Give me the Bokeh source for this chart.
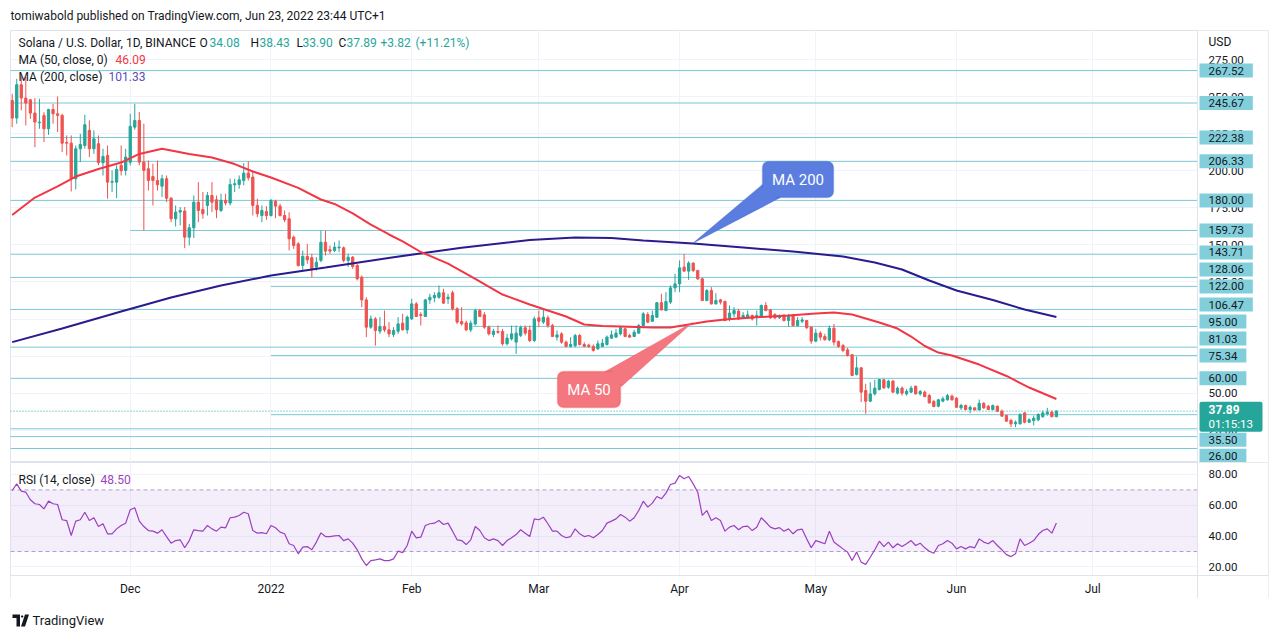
from bokeh.plotting import figure
from bokeh.models import (Range1d, LinearAxis, FixedTicker, NumeralTickFormatter, Label,
                          BoxAnnotation, PolyAnnotation, Span, ColumnDataSource, Grid)
from bokeh.layouts import column
from bokeh.embed import file_html
from bokeh.resources import INLINE

# ---------------- data (daily candles, 5 Nov 2021 -> 23 Jun 2022) ----------------
opens = [247.4, 235.5, 258.0, 249.0, 247.8, 238.9, 232.3, 237.3, 228.3, 241.3,
         238.4, 237.3, 219.1, 218.6, 194.6, 214.8, 217.0, 227.2, 214.8, 218.2,
         205.4, 210.3, 192.3, 192.3, 203.6, 200.2, 205.8, 229.4, 233.9, 205.8,
         201.3, 196.1, 193.4, 189.6, 194.6, 181.5, 167.6, 172.1, 172.8, 155.2,
         161.5, 178.8, 173.9, 176.6, 183.3, 180.4, 173.2, 180.0, 178.2, 190.5,
         190.7, 193.4, 198.4, 195.7, 176.6, 169.8, 172.5, 169.8, 179.5, 176.1,
         169.8, 167.6, 155.2, 150.7, 136.1, 142.2, 141.3, 135.0, 139.5, 151.8,
         146.7, 146.2, 148.0, 148.0, 139.5, 141.7, 136.1, 128.2, 112.9, 94.5,
         100.1, 91.8, 95.0, 92.7, 89.6, 91.8, 97.2, 92.7, 100.1, 110.2,
         103.0, 101.7, 112.9, 114.3, 114.7, 117.7, 113.6, 117.7, 106.9, 98.3,
         97.4, 92.7, 96.7, 105.7, 102.8, 94.5, 89.6, 91.6, 91.6, 83.3,
         86.6, 84.4, 89.0, 94.1, 92.5, 85.5, 100.8, 97.9, 100.8, 95.6,
         87.8, 90.0, 84.4, 81.5, 82.0, 88.9, 82.8, 82.4, 81.5, 79.9,
         81.5, 82.8, 87.1, 87.8, 90.0, 93.4, 88.9, 88.2, 90.5, 95.6,
         103.0, 98.5, 101.2, 111.0, 105.7, 111.4, 121.0, 123.7, 135.0, 132.3,
         137.7, 132.7, 127.1, 112.5, 119.2, 110.2, 112.9, 111.8, 100.1, 103.5,
         105.3, 100.8, 100.8, 102.4, 101.2, 101.2, 109.1, 106.2, 103.0, 100.8,
         101.7, 99.0, 102.4, 95.6, 98.5, 99.0, 94.5, 85.1, 90.5, 88.2,
         86.0, 93.8, 84.8, 82.1, 79.2, 75.9, 62.6, 67.1, 51.8, 44.6,
         49.5, 52.5, 59.0, 54.0, 58.1, 50.0, 53.4, 49.5, 50.7, 54.7,
         49.5, 50.7, 48.4, 44.4, 41.2, 44.6, 45.5, 48.0, 46.6, 40.1,
         41.7, 39.0, 40.1, 38.7, 43.2, 41.2, 39.0, 41.2, 37.8, 34.9,
         31.6, 29.3, 29.3, 36.7, 30.4, 31.6, 32.0, 34.2, 36.1, 37.2,
         34.08]
highs = [251.9, 262.0, 264.3, 263.1, 248.5, 249.0, 248.5, 239.5, 241.8, 245.1,
         250.1, 238.4, 223.8, 223.8, 217.0, 224.9, 237.7, 233.9, 227.2, 223.8,
         214.8, 217.0, 200.2, 203.6, 217.0, 214.8, 238.4, 245.1, 239.5, 231.7,
         206.9, 204.7, 206.9, 197.3, 196.8, 182.2, 176.6, 175.5, 175.5, 164.2,
         183.3, 192.3, 185.6, 185.6, 192.3, 183.3, 184.5, 184.5, 194.6, 194.6,
         196.8, 205.1, 206.5, 199.5, 181.1, 176.6, 176.1, 181.0, 180.4, 177.7,
         173.2, 172.0, 156.3, 151.8, 146.2, 150.7, 144.0, 141.7, 159.7, 159.7,
         149.6, 151.8, 153.0, 148.9, 144.0, 142.5, 137.2, 129.3, 114.7, 102.4,
         101.3, 101.3, 105.7, 97.9, 94.5, 101.3, 103.5, 102.4, 113.6, 111.4,
         104.6, 113.6, 117.0, 118.1, 122.6, 120.4, 117.0, 119.2, 108.0, 108.0,
         99.0, 99.0, 106.9, 106.9, 104.6, 95.6, 93.4, 95.6, 93.4, 90.0,
         95.6, 95.6, 95.6, 95.6, 95.6, 101.7, 105.7, 106.2, 102.4, 96.7,
         92.3, 91.1, 85.5, 87.8, 90.0, 90.0, 84.4, 83.3, 82.8, 85.5,
         86.6, 88.9, 92.3, 93.4, 94.9, 94.1, 90.0, 92.7, 96.7, 104.6,
         104.6, 105.7, 111.5, 117.0, 118.1, 122.6, 130.5, 139.5, 143.96, 139.0,
         138.3, 133.2, 127.8, 120.3, 121.5, 117.4, 113.6, 112.5, 109.1, 108.0,
         106.9, 104.6, 105.7, 103.0, 105.7, 109.8, 111.4, 106.9, 103.9, 103.0,
         103.5, 103.5, 103.5, 101.3, 101.3, 99.4, 95.0, 93.4, 91.8, 90.0,
         95.6, 96.7, 85.5, 83.3, 80.6, 76.5, 74.7, 67.6, 56.3, 57.4,
         59.0, 59.7, 59.7, 59.0, 59.0, 54.5, 54.5, 52.9, 55.0, 55.0,
         52.2, 51.8, 49.5, 45.5, 46.2, 47.7, 49.5, 49.1, 47.3, 42.8,
         42.3, 41.7, 40.5, 45.7, 43.9, 42.1, 42.3, 41.7, 39.0, 35.6,
         32.7, 31.6, 36.5, 37.2, 33.1, 34.9, 36.5, 38.3, 40.1, 38.3,
         38.43]
lows = [229.4, 231.7, 240.7, 230.5, 235.0, 215.9, 228.3, 219.3, 224.2, 231.7,
        226.0, 212.6, 210.3, 186.0, 187.4, 205.8, 214.8, 209.2, 211.4, 203.6,
        196.8, 181.1, 185.6, 181.5, 196.8, 196.8, 203.6, 227.6, 203.6, 159.7,
        186.7, 176.6, 186.7, 182.2, 178.8, 165.3, 162.4, 163.1, 147.8, 149.6,
        154.6, 165.3, 167.6, 169.8, 172.1, 168.0, 172.1, 176.6, 176.6, 185.6,
        187.8, 190.1, 193.4, 169.8, 168.7, 165.3, 166.9, 169.1, 168.0, 169.1,
        165.3, 146.2, 147.3, 135.4, 132.7, 137.2, 128.2, 132.7, 138.3, 142.8,
        144.0, 145.1, 145.1, 138.3, 135.0, 133.8, 126.0, 108.0, 87.8, 93.4,
        82.1, 90.0, 91.1, 87.8, 87.8, 90.0, 92.3, 90.0, 99.4, 101.3,
        95.6, 101.3, 110.2, 111.3, 113.6, 110.2, 110.2, 105.7, 96.7, 95.6,
        91.8, 91.1, 95.6, 101.3, 93.4, 88.9, 87.8, 90.0, 82.1, 82.1,
        85.5, 76.5, 87.8, 88.9, 84.4, 84.4, 94.5, 96.7, 94.1, 87.8,
        85.5, 83.3, 81.0, 81.0, 81.0, 82.1, 81.0, 80.6, 78.1, 79.2,
        81.0, 82.1, 86.6, 87.3, 88.9, 87.8, 87.3, 87.8, 90.0, 94.9,
        97.2, 97.9, 100.8, 105.7, 105.3, 110.2, 118.1, 118.1, 132.0, 126.4,
        131.6, 126.4, 112.0, 112.0, 109.8, 109.8, 109.8, 98.5, 98.5, 101.2,
        99.4, 100.1, 100.1, 99.0, 95.6, 100.8, 105.3, 100.1, 99.9, 100.1,
        98.3, 94.9, 94.9, 94.9, 97.2, 93.4, 83.3, 84.4, 85.5, 85.5,
        85.1, 82.1, 80.6, 77.6, 74.7, 61.5, 61.9, 43.9, 36.1, 43.9,
        48.4, 51.8, 52.9, 52.9, 50.0, 49.1, 48.4, 48.4, 50.0, 49.1,
        48.4, 47.3, 42.8, 40.5, 40.5, 43.9, 45.0, 45.0, 40.1, 38.7,
        38.3, 36.5, 38.3, 38.3, 39.4, 38.7, 38.3, 37.2, 34.2, 30.9,
        27.1, 27.1, 28.9, 29.7, 29.9, 28.2, 31.1, 33.3, 34.9, 33.95,
        33.90]
closes = [235.5, 258.0, 249.0, 245.6, 238.9, 232.8, 232.8, 228.3, 241.3, 238.4,
          237.3, 218.6, 218.6, 194.6, 214.8, 217.7, 231.0, 214.8, 221.5, 205.4,
          209.6, 192.3, 192.8, 200.9, 200.0, 209.2, 229.9, 233.9, 205.8, 200.2,
          193.4, 193.4, 190.5, 194.6, 181.5, 167.6, 172.1, 173.2, 155.2, 161.5,
          178.8, 173.2, 171.0, 183.3, 178.8, 173.7, 180.0, 178.2, 190.7, 191.2,
          193.9, 198.4, 195.2, 176.6, 171.0, 173.2, 169.8, 179.9, 176.1, 169.8,
          166.9, 154.1, 149.6, 136.1, 142.2, 139.9, 133.8, 138.3, 151.8, 145.8,
          145.8, 148.5, 148.5, 139.5, 141.7, 135.4, 127.1, 112.9, 94.5, 100.1,
          92.3, 95.0, 92.7, 90.0, 92.3, 96.7, 92.7, 101.3, 110.2, 101.7,
          102.4, 112.9, 114.7, 115.9, 117.7, 110.7, 114.7, 106.9, 97.9, 96.7,
          92.7, 97.2, 105.7, 101.7, 94.5, 90.0, 91.8, 91.1, 83.3, 87.1,
          90.0, 90.5, 94.2, 90.5, 85.5, 100.1, 98.5, 101.2, 95.6, 88.2,
          89.3, 84.4, 81.5, 82.8, 88.9, 82.8, 81.5, 81.5, 78.8, 83.3,
          83.7, 87.8, 89.3, 90.5, 94.1, 88.2, 87.8, 91.1, 95.6, 103.5,
          97.9, 102.4, 111.0, 106.2, 111.8, 121.0, 123.7, 134.5, 132.3, 137.7,
          132.7, 127.1, 112.5, 119.2, 110.2, 112.5, 111.4, 99.0, 104.0, 105.7,
          100.1, 102.4, 102.8, 100.1, 102.4, 109.1, 105.7, 100.8, 100.8, 101.7,
          99.0, 102.4, 95.6, 99.0, 99.4, 94.1, 85.1, 90.5, 87.8, 86.0,
          93.8, 84.4, 81.5, 78.8, 75.4, 61.9, 67.1, 50.7, 44.6, 49.5,
          53.4, 59.2, 53.6, 58.1, 50.7, 53.4, 50.0, 51.3, 53.4, 49.5,
          51.1, 47.7, 43.5, 41.0, 45.5, 46.2, 48.4, 45.5, 40.5, 41.7,
          39.0, 40.5, 38.7, 43.2, 40.1, 39.0, 41.7, 37.8, 34.5, 31.1,
          29.3, 30.4, 35.6, 30.4, 32.0, 33.1, 35.6, 36.7, 37.2, 34.07,
          37.89]
rsi = [69.6, 73.9, 69.2, 68.5, 63.6, 61.0, 60.5, 57.7, 62.7, 61.0,
       60.5, 50.6, 50.1, 40.4, 49.7, 50.6, 55.5, 50.1, 51.9, 46.2,
       48.0, 41.5, 41.5, 44.7, 46.9, 48.4, 57.1, 58.4, 49.7, 46.2,
       43.6, 43.2, 41.9, 44.1, 39.7, 35.4, 37.1, 37.6, 32.4, 37.1,
       44.1, 43.6, 43.2, 46.9, 44.7, 43.2, 45.8, 45.4, 51.9, 52.3,
       53.4, 55.5, 54.5, 43.6, 41.9, 42.3, 41.5, 46.9, 45.4, 42.6,
       41.5, 35.0, 33.9, 28.5, 32.8, 33.2, 31.1, 36.1, 42.1, 39.7,
       39.7, 40.2, 40.4, 37.1, 38.2, 35.4, 31.1, 25.2, 20.9, 24.1,
       24.6, 25.2, 24.1, 24.1, 25.2, 30.2, 29.3, 33.9, 43.2, 38.9,
       39.3, 46.9, 48.0, 48.4, 50.1, 47.5, 48.4, 43.2, 37.6, 37.1,
       34.5, 37.6, 46.2, 43.6, 38.9, 37.1, 38.2, 37.1, 33.9, 37.1,
       38.9, 41.0, 44.1, 41.9, 39.7, 51.2, 50.6, 52.3, 48.0, 43.2,
       43.2, 40.4, 38.9, 39.7, 44.7, 41.5, 39.7, 40.4, 38.9, 41.0,
       43.6, 48.4, 49.7, 51.2, 54.0, 52.3, 49.7, 51.9, 56.6, 62.7,
       58.8, 61.4, 65.7, 64.2, 67.9, 73.5, 74.4, 79.4, 77.2, 78.7,
       73.9, 68.5, 53.4, 56.6, 50.1, 51.9, 50.1, 43.2, 45.8, 46.9,
       44.1, 46.2, 46.5, 43.6, 45.8, 51.9, 49.0, 45.8, 44.7, 45.5,
       43.2, 44.7, 41.5, 44.1, 44.5, 38.2, 32.4, 37.1, 36.1, 35.0,
       43.2, 36.1, 33.9, 31.7, 29.6, 24.1, 29.6, 23.1, 21.6, 26.3,
       31.1, 36.7, 33.2, 36.1, 32.4, 35.0, 33.2, 35.0, 37.1, 33.9,
       35.4, 32.4, 30.2, 28.9, 33.9, 35.0, 37.1, 35.4, 31.7, 33.2,
       31.7, 33.2, 32.4, 38.2, 36.1, 35.0, 37.1, 33.9, 31.1, 28.0,
       26.7, 28.5, 38.2, 33.9, 35.4, 37.1, 41.0, 43.6, 44.7, 41.9,
       48.50]

ma50_day = [0, 5, 10, 14, 19, 24, 28, 33, 39, 44, 49, 53, 57, 63, 68, 71, 75, 79, 83, 86,
            90, 96, 102, 108, 114, 118, 122, 126, 130, 134, 141, 145, 149, 153, 157, 163,
            171, 177, 181, 185, 188, 191, 195, 198, 201, 204, 207, 213, 219, 224, 230]
ma50 = [170.1, 181.9, 189.4, 196.1, 201.2, 205.5, 211.3, 214.8, 211.3, 208.9, 204.5, 199.5,
        195.4, 188.4, 180.6, 177.6, 171.2, 163.7, 157.0, 152.3, 145.2, 137.4, 127.0, 116.5,
        109.8, 105.7, 101.7, 96.3, 95.3, 95.0, 94.3, 94.3, 96.3, 98.3, 99.7, 101.0, 102.4,
        103.7, 104.4, 103.0, 100.4, 97.7, 93.6, 88.2, 81.8, 77.4, 75.4, 69.3, 61.6, 53.8, 46.09]
ma200_day = [0, 11, 24, 35, 46, 57, 69, 84, 99, 114, 124, 132, 139, 150, 161, 172, 183,
             190, 196, 202, 208, 216, 223, 230]
ma200 = [84.4, 93.6, 105.1, 114.5, 122.6, 129.3, 134.7, 141.7, 148.0, 153.3, 155.0, 154.6,
         153.0, 150.9, 148.2, 145.5, 142.2, 138.1, 133.4, 126.0, 119.2, 112.8, 106.4, 101.33]

month_days = [26, 57, 88, 116, 147, 177, 208, 238]
month_labels = ["Dec", "2022", "Feb", "Mar", "Apr", "May", "Jun", "Jul"]
price_ticks = [25, 50, 75, 100, 125, 150, 175, 200, 225, 250, 275]
rsi_ticks = [20, 40, 60, 80]

levels = [267.52, 245.67, 222.38, 206.33, 180.00, 159.73, 143.71, 128.06, 122.00,
          106.47, 95.00, 81.03, 75.34, 60.00, 35.50, 26.00]
level_from = [-1, -1, -1, -1, -1, 26, -1, -1, 57, -1, 101.5, -1, 57, -1, 57, -1]
unlabeled_levels = [20.70, 12.70]

header = "tomiwabold published on TradingView.com, Jun 23, 2022 23:44 UTC+1"
symbol = "Solana / U.S. Dollar, 1D, BINANCE"
countdown = "01:15:13"

# ---------------- style / geometry ----------------
UP, DOWN = "#26a69a", "#ef5350"
TXT = "#131722"
GRID = "#f0f3fa"
BORDER = "#e0e3eb"
LEVEL = "#78c8d4"
LEVEL_LABEL = "#82cfdb"
MA50_C = "#f23645"
MA200_C = "#2a1b8e"
MA200_TXT = "#5b4bbd"
RSI_C = "#9c3fc0"
FONT = "Roboto"

W = 1270
FL = 10                      # page x of the frames' left edge
FW = 1258                    # frame width (plot area + price-axis column)
MAIN_TOP, MAIN_FB = 30, 462  # page y of the main pane
RSI_FB = 598                 # page y of the bottom of the rsi/time block
x_lo, x_hi = -0.374, 276.72
X_AXIS = 261.08              # data x where the price-axis column starts
y_lo, y_hi = 3.25, 294.56
r_lo, r_hi = -0.52, 87.79
R_TIME = 14.42               # rsi value at the top of the time-axis row

n = len(closes)
days = list(range(n))
src = ColumnDataSource(dict(
    x=days, h=highs, l=lows,
    top=[max(o, c) for o, c in zip(opens, closes)],
    bot=[min(o, c) for o, c in zip(opens, closes)],
    col=[UP if c >= o else DOWN for o, c in zip(opens, closes)]))


def base_fig(height, xr, yr, outline=None):
    return figure(width=W, height=height, x_range=xr, y_range=yr, x_axis_type=None, y_axis_type=None,
                  output_backend="svg", toolbar_location=None, min_border_left=FL,
                  min_border_right=W - FL - FW, min_border_top=0, min_border_bottom=0,
                  outline_line_color=outline, background_fill_color="white",
                  border_fill_color="white")


def axis_style(**kw):
    base = dict(axis_line_color=None, major_tick_line_color=None, minor_tick_line_color=None,
                major_tick_in=0, major_tick_out=0, minor_tick_in=0, minor_tick_out=0,
                major_label_text_font=FONT, major_label_text_font_size="11.5px",
                major_label_text_color=TXT)
    base.update(kw)
    return base


# ---------------- header (frame coords == page pixels) ----------------
hdr = base_fig(MAIN_TOP, Range1d(FL, FL + FW), Range1d(MAIN_TOP, 0))
hdr.add_layout(Label(x=10, y=15, text=header, text_font=FONT, text_font_size="12px",
                     text_color=TXT, text_baseline="middle"))

# ---------------- main price pane ----------------
p = base_fig(MAIN_FB - MAIN_TOP, Range1d(x_lo, x_hi), Range1d(y_lo, y_hi), outline=BORDER)
p.add_layout(Grid(dimension=0, ticker=FixedTicker(ticks=month_days), grid_line_color=GRID))
p.add_layout(Grid(dimension=1, ticker=FixedTicker(ticks=price_ticks), grid_line_color=GRID))
p.add_layout(BoxAnnotation(left=X_AXIS, fill_color="white", fill_alpha=1, line_color=None, level="underlay"))
p.add_layout(Span(location=X_AXIS, dimension="height", line_color=BORDER, line_width=1))
pax = LinearAxis(fixed_location=X_AXIS, ticker=FixedTicker(ticks=price_ticks),
                 formatter=NumeralTickFormatter(format="0.00"), major_label_standoff=11,
                 **axis_style())
p.add_layout(pax, "right")

all_levels = levels + unlabeled_levels
all_from = level_from + [-1] * len(unlabeled_levels)
p.segment(x0=all_from, y0=all_levels, x1=[X_AXIS] * len(all_levels), y1=all_levels,
          line_color=LEVEL, line_width=1)
p.segment(x0=[x_lo], y0=[closes[-1]], x1=[X_AXIS], y1=[closes[-1]], line_color=UP,
          line_dash="1 2", line_width=1)

p.segment(x0="x", y0="l", x1="x", y1="h", source=src, line_color="col", line_width=1)
p.vbar(x="x", width=0.5, top="top", bottom="bot", source=src, fill_color="col", line_color="col",
       line_width=1)
p.line(ma200_day, ma200, line_color=MA200_C, line_width=2)
p.line(ma50_day, ma50, line_color=MA50_C, line_width=2)


def mlabel(text, px, py, color=TXT, size="12px", style="normal", align="left"):
    p.add_layout(Label(x=px - FL, y=MAIN_FB - py, x_units="screen", y_units="screen", text=text,
                       text_font=FONT, text_font_size=size, text_color=color, text_font_style=style,
                       text_baseline="middle", text_align=align))


mlabel(symbol, 18, 42)
chg = closes[-1] - closes[-2]
pct = chg / closes[-2] * 100
for letter, val, lx, vx in [("O", opens[-1], 199, 209), ("H", highs[-1], 250, 259),
                            ("L", lows[-1], 296, 302), ("C", closes[-1], 338, 346)]:
    mlabel(letter, lx, 42)
    mlabel(f"{val:.2f}", vx, 42, color=UP)
mlabel(f"{chg:+.2f}", 380, 42, color=UP)
mlabel(f"({pct:+.2f}%)", 415, 42, color=UP)
mlabel("MA (50, close, 0)", 18, 59)
mlabel(f"{ma50[-1]:.2f}", 115, 59, color=MA50_C)
mlabel("MA (200, close)", 18, 76)
mlabel(f"{ma200[-1]:.2f}", 108, 76, color=MA200_TXT)
mlabel("USD", 1208, 41)

# callouts
p.add_layout(PolyAnnotation(xs=[752, 770, 682], ys=[278, 265, 219], xs_units="screen", ys_units="screen",
                            fill_color="#5a7ddf", fill_alpha=1, line_color="#3c5ccb", line_width=1))
p.add_layout(BoxAnnotation(left=752, right=823, top=301, bottom=265, left_units="screen",
                           right_units="screen", top_units="screen", bottom_units="screen",
                           fill_color="#5a7ddf", fill_alpha=1, line_color="#3c5ccb", line_width=1.5,
                           border_radius=6))
p.add_layout(PolyAnnotation(xs=[754, 768, 700], ys=[276, 266.5, 230], xs_units="screen", ys_units="screen",
                            fill_color="#5a7ddf", fill_alpha=1, line_color=None))
mlabel("MA 200", 797.5, 179, color="white", size="15px", align="center")

p.add_layout(PolyAnnotation(xs=[593, 611, 682], ys=[90, 76, 140], xs_units="screen", ys_units="screen",
                            fill_color="#f4767e", fill_alpha=1, line_color="#e3424f", line_width=1))
p.add_layout(BoxAnnotation(left=547, right=610, top=91, bottom=55, left_units="screen",
                           right_units="screen", top_units="screen", bottom_units="screen",
                           fill_color="#f4767e", fill_alpha=1, line_color="#e3424f", line_width=1.5,
                           border_radius=6))
p.add_layout(PolyAnnotation(xs=[596, 609, 670], ys=[88, 78, 130], xs_units="screen", ys_units="screen",
                            fill_color="#f4767e", fill_alpha=1, line_color=None))
mlabel("MA 50", 588.5, 389, color="white", size="15px", align="center")

# price labels in the axis column, stacked like TradingView does
scale = (MAIN_FB - MAIN_TOP) / (y_hi - y_lo)


def ypix(v):
    return MAIN_TOP + (y_hi - v) * scale


cur = closes[-1]
cur_y = ypix(cur)
box_top, box_bot = cur_y - 9.5, cur_y + 20.5
label_y = {}
prev = box_top + 8.5
for i in sorted([i for i in range(len(levels)) if levels[i] > cur], key=lambda i: levels[i]):
    label_y[i] = min(ypix(levels[i]), prev - 17)
    prev = label_y[i]
prev = box_bot - 8
for i in sorted([i for i in range(len(levels)) if levels[i] < cur], key=lambda i: -levels[i]):
    label_y[i] = max(ypix(levels[i]), prev + 16)
    prev = label_y[i]
for i, yy in label_y.items():
    p.add_layout(Label(x=1189, y=MAIN_FB - yy, x_units="screen", y_units="screen",
                       text=f"{levels[i]:.2f}", text_font=FONT, text_font_size="11.5px",
                       text_color=TXT, text_baseline="middle", text_align="left",
                       background_fill_color=LEVEL_LABEL,
                       padding=dict(left=9, right=9, top=3, bottom=3)))
p.add_layout(BoxAnnotation(left=1189, right=1252, top=MAIN_FB - box_top, bottom=MAIN_FB - box_bot,
                           left_units="screen", right_units="screen", top_units="screen",
                           bottom_units="screen", fill_color=UP, fill_alpha=1, line_color=None,
                           border_radius=2))
p.add_layout(Label(x=1198, y=MAIN_FB - (cur_y - 1.5), x_units="screen", y_units="screen",
                   text=f"{cur:.2f}", text_font=FONT, text_font_size="12px", text_font_style="bold",
                   text_color="white", text_baseline="middle", text_align="left"))
p.add_layout(Label(x=1198, y=MAIN_FB - (cur_y + 13), x_units="screen", y_units="screen",
                   text=countdown, text_font=FONT, text_font_size="11.5px",
                   text_color="white", text_baseline="middle", text_align="left"))

# ---------------- RSI pane + time axis row ----------------
r = base_fig(RSI_FB - MAIN_FB, p.x_range, Range1d(r_lo, r_hi), outline=BORDER)
r.add_layout(Grid(dimension=0, ticker=FixedTicker(ticks=month_days), grid_line_color=GRID))
r.add_layout(Grid(dimension=1, ticker=FixedTicker(ticks=rsi_ticks), grid_line_color=GRID))
r.add_layout(BoxAnnotation(left=x_lo, right=X_AXIS, bottom=30, top=70, fill_color="#8e5cd0",
                           fill_alpha=0.1, line_color=None, level="underlay"))
r.add_layout(BoxAnnotation(left=X_AXIS, fill_color="white", fill_alpha=1, line_color=None, level="underlay"))
r.add_layout(BoxAnnotation(top=R_TIME, fill_color="white", fill_alpha=1, line_color=None, level="underlay"))
r.add_layout(Span(location=X_AXIS, dimension="height", line_color=BORDER, line_width=1))
r.add_layout(Span(location=R_TIME, dimension="width", line_color=BORDER, line_width=1))
r.segment(x0=[x_lo, x_lo], y0=[70, 30], x1=[X_AXIS, X_AXIS], y1=[70, 30], line_color="#b39ad6",
          line_dash="4 3", line_width=1)
r.line(days, rsi, line_color=RSI_C, line_width=1.2)

rax = LinearAxis(fixed_location=X_AXIS, ticker=FixedTicker(ticks=rsi_ticks),
                 formatter=NumeralTickFormatter(format="0.00"), major_label_standoff=11,
                 **axis_style())
r.add_layout(rax, "right")
tax = LinearAxis(fixed_location=R_TIME, ticker=FixedTicker(ticks=month_days),
                 major_label_overrides={d: s for d, s in zip(month_days, month_labels)},
                 major_label_standoff=7, **axis_style(major_label_text_font_size="12px"))
r.add_layout(tax, "below")
r.add_layout(Label(x=18 - FL, y=RSI_FB - 479, x_units="screen", y_units="screen",
                   text="RSI (14, close)", text_font=FONT, text_font_size="12px", text_color=TXT,
                   text_baseline="middle"))
r.add_layout(Label(x=100 - FL, y=RSI_FB - 479, x_units="screen", y_units="screen",
                   text=f"{rsi[-1]:.2f}", text_font=FONT, text_font_size="12px", text_color=RSI_C,
                   text_baseline="middle"))

# ---------------- footer (frame coords == page pixels) ----------------
ftr = base_fig(32, Range1d(FL, FL + FW), Range1d(RSI_FB + 32, RSI_FB))
ftr.add_layout(PolyAnnotation(xs=[12, 19.5, 19.5, 16, 16, 12], ys=[614, 614, 626, 626, 617.5, 617.5],
                              fill_color=TXT, fill_alpha=1, line_color=None))
ftr.add_layout(PolyAnnotation(xs=[20.3, 21.6, 23, 21.6], ys=[616, 614.6, 616, 617.4],
                              fill_color=TXT, fill_alpha=1, line_color=None))
ftr.add_layout(PolyAnnotation(xs=[24.5, 28.5, 24.5, 20.5], ys=[614, 614, 626, 626],
                              fill_color=TXT, fill_alpha=1, line_color=None))
ftr.add_layout(Label(x=32, y=620, text="TradingView", text_font=FONT, text_font_size="13px",
                     text_color=TXT, text_baseline="middle"))

layout = column(hdr, p, r, ftr)
open("out.html", "w").write(file_html(layout, INLINE))
